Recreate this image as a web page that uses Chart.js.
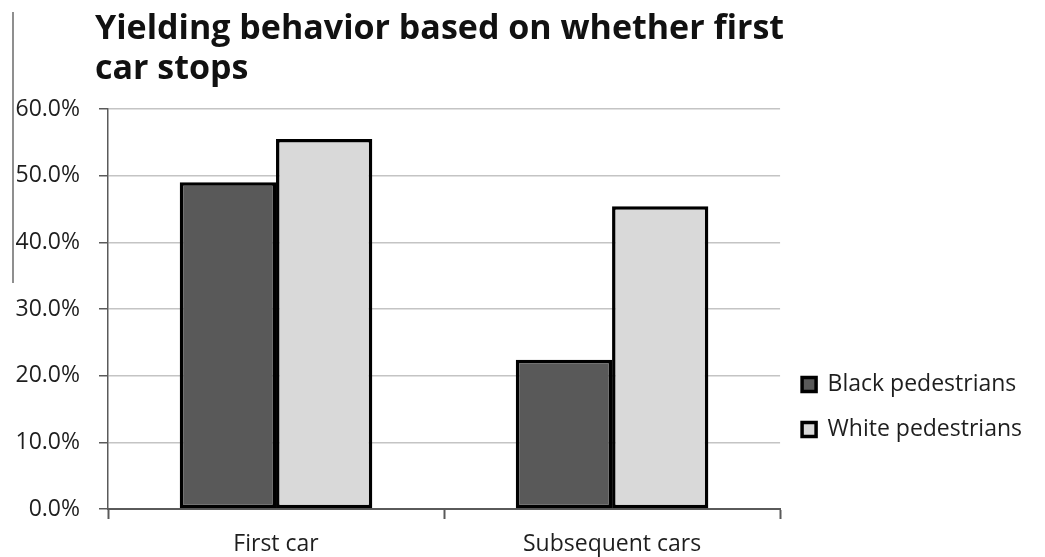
<!DOCTYPE html>
<html>
<head>
<meta charset="utf-8">
<script src="https://cdn.jsdelivr.net/npm/chart.js@4"></script>
<style>
  html, body { margin: 0; padding: 0; background: #ffffff; }
  #wrap { width: 1045px; height: 557px; position: relative; }
</style>
</head>
<body>
<div id="wrap"><canvas id="c"></canvas></div>
<script>
const titleLines = ['Yielding behavior based on whether first', 'car stops'];
const categories = ['First car', 'Subsequent cars'];
const seriesNames = ['Black pedestrians', 'White pedestrians'];
const blackValues = [49.0, 22.4];
const whiteValues = [55.5, 45.4];
const yTicks = [0, 10, 20, 30, 40, 50, 60];

const FONT = '"Open Sans", "Noto Sans", sans-serif';
const TEXT = '#1e1e1e';
const AXIS = '#5a5a5a';

// decorative thin vertical line at far left (present in the reference image)
const edgeLine = {
  id: 'edgeLine',
  afterDraw(chart) {
    const ctx = chart.ctx;
    ctx.save();
    ctx.strokeStyle = '#6a6a6a';
    ctx.lineWidth = 1.5;
    ctx.beginPath();
    ctx.moveTo(13, 12);
    ctx.lineTo(13, 283);
    ctx.stroke();
    ctx.restore();
  }
};

// start the title text at the same x as in the reference
const titleShift = {
  id: 'titleShift',
  afterLayout(chart) {
    if (chart.titleBlock) {
      chart.titleBlock.left = 95;
    }
  }
};

new Chart(document.getElementById('c'), {
  type: 'bar',
  data: {
    labels: categories,
    datasets: [
      {
        label: seriesNames[0],
        data: blackValues,
        backgroundColor: '#595959',
        borderColor: '#000000',
        borderWidth: 3.5,
        borderSkipped: false
      },
      {
        label: seriesNames[1],
        data: whiteValues,
        backgroundColor: '#d9d9d9',
        borderColor: '#000000',
        borderWidth: 3.5,
        borderSkipped: false
      }
    ]
  },
  options: {
    responsive: true,
    maintainAspectRatio: false,
    animation: false,
    devicePixelRatio: 1,
    layout: { padding: { left: 0, right: 13, top: 0, bottom: 0 } },
    datasets: { bar: { categoryPercentage: 0.573, barPercentage: 1.0 } },
    plugins: {
      title: {
        display: true,
        text: titleLines,
        align: 'start',
        color: '#111111',
        font: { family: FONT, size: 34, weight: 'bold', lineHeight: 1.176 },
        padding: { top: 9, bottom: 20 }
      },
      legend: {
        display: true,
        position: 'right',
        align: 'start',
        fullSize: false,
        title: {
          display: true,
          text: ' ',
          font: { family: FONT, size: 10, lineHeight: 1 },
          padding: { top: 232, bottom: 0 }
        },
        labels: {
          color: TEXT,
          font: { family: FONT, size: 23 },
          boxWidth: 14,
          boxHeight: 14,
          padding: 22
        }
      },
      tooltip: { enabled: false }
    },
    scales: {
      x: {
        offset: true,
        afterFit(s) { s.height = 48; },
        grid: {
          display: true,
          offset: true,
          drawOnChartArea: false,
          drawTicks: true,
          tickLength: 10,
          tickColor: AXIS,
          tickWidth: 2
        },
        border: { display: true, color: AXIS, width: 2 },
        ticks: {
          color: TEXT,
          font: { family: FONT, size: 23 },
          padding: 12,
          maxRotation: 0
        }
      },
      y: {
        min: 0,
        max: 60,
        afterFit(s) { s.width = 108; },
        afterBuildTicks(s) { s.ticks = yTicks.map(v => ({ value: v })); },
        grid: {
          color: '#c4c4c4',
          lineWidth: 1.5,
          tickLength: 9,
          tickColor: AXIS,
          tickWidth: 1.5
        },
        border: { display: true, color: AXIS, width: 1.5 },
        ticks: {
          color: TEXT,
          font: { family: FONT, size: 23 },
          padding: 19,
          callback: v => Number(v).toFixed(1) + '%'
        }
      }
    }
  },
  plugins: [edgeLine, titleShift]
});
</script>
</body>
</html>
